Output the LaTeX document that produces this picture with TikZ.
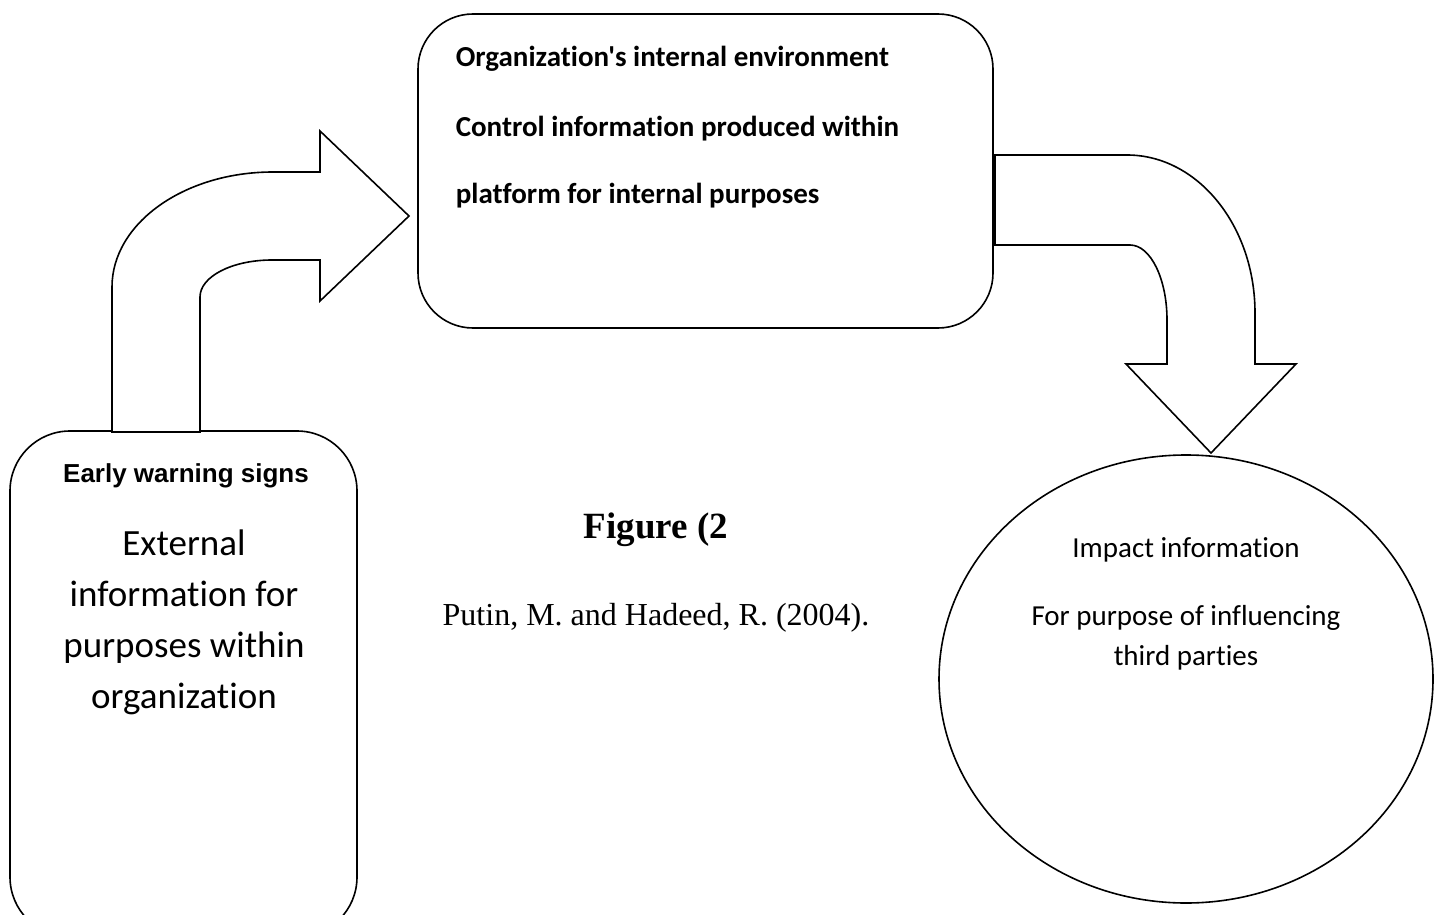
\documentclass[tikz,border=0pt]{standalone}
\usepackage{fontspec}
\usetikzlibrary{shapes.geometric}
\setmainfont{Carlito}[Ligatures={TeXOff,NoCommon}]
\newfontfamily\arialfont{Liberation Sans}
\newfontfamily\timesfont{Liberation Serif}
\begin{document}
\begin{tikzpicture}[x=1pt,y=-1pt,line width=1.6pt,line join=miter,
  panel/.style={draw,fill=white,inner sep=0pt,outer sep=0pt},
  blockarrow/.style={draw,fill=white,line join=miter},
  boldline/.style={font=\bfseries\fontsize{29}{34}\selectfont,anchor=base west,inner sep=0pt},
  bigline/.style={font=\fontsize{37}{45}\selectfont,anchor=base,inner sep=0pt},
  ovalline/.style={font=\fontsize{29}{35}\selectfont,anchor=base,inner sep=0pt}]
\useasboundingbox (0,0) rectangle (1440,915);
\clip (0,0) rectangle (1440,915);

% internal environment box
\node[panel,rounded corners=55pt,minimum width=575pt,minimum height=314pt] (env) at (705.5,171) {};
% early warning box (runs past the lower edge)
\node[panel,rounded corners=60pt,minimum width=347pt,minimum height=506pt] (ews) at (183.5,684) {};
% impact information oval
\node[panel,ellipse,minimum width=494pt,minimum height=448pt] (imp) at (1186,679) {};

% bent arrow from the early warning box to the internal environment box
\draw[blockarrow] (112,432) -- (112,287)
  .. controls (112,223.5) and (184,172) .. (273,172) -- (320,172) -- (320,131)
  -- (409,216) -- (320,301) -- (320,260) -- (272,260)
  .. controls (232,260) and (200,276.6) .. (200,297) -- (200,432) -- cycle;

% bent arrow from the internal environment box down to the oval
\draw[blockarrow] (995,155) -- (1127,155)
  .. controls (1197.7,155) and (1255,225.8) .. (1255,313) -- (1255,364)
  -- (1296,364) -- (1211,453) -- (1126,364) -- (1167,364) -- (1167,320)
  .. controls (1167,278.6) and (1150.4,245) .. (1130,245) -- (995,245) -- cycle;

% texts of the internal environment box
\node[boldline] (env1) at (455,67) {Organization's internal environment};
\node[boldline] (env2) at (455,136) {Control information produced within};
\node[boldline] (env3) at (455,203) {platform for internal purposes};

% texts of the early warning box
\node[font=\arialfont\bfseries\fontsize{26}{30}\selectfont,anchor=base,inner sep=0pt] (ews0) at (186,482) {Early warning signs};
\node[bigline] (ews1) at (184,555) {External};
\node[bigline] (ews2) at (184,606) {information for};
\node[bigline] (ews3) at (184,657) {purposes within};
\node[bigline] (ews4) at (184,708) {organization};

% texts of the oval
\node[ovalline] (imp1) at (1186,557) {Impact information};
\node[ovalline] (imp2) at (1186,625) {For purpose of influencing};
\node[ovalline] (imp3) at (1186,665) {third parties};

% caption and source
\node[font=\timesfont\bfseries\fontsize{37}{42}\selectfont,anchor=base,inner sep=0pt] (cap) at (656,538) {Figure (2};
\node[font=\timesfont\fontsize{32}{36}\selectfont,anchor=base,inner sep=0pt] (src) at (656,625) {Putin, M. and Hadeed, R. (2004).};
\end{tikzpicture}
\end{document}
